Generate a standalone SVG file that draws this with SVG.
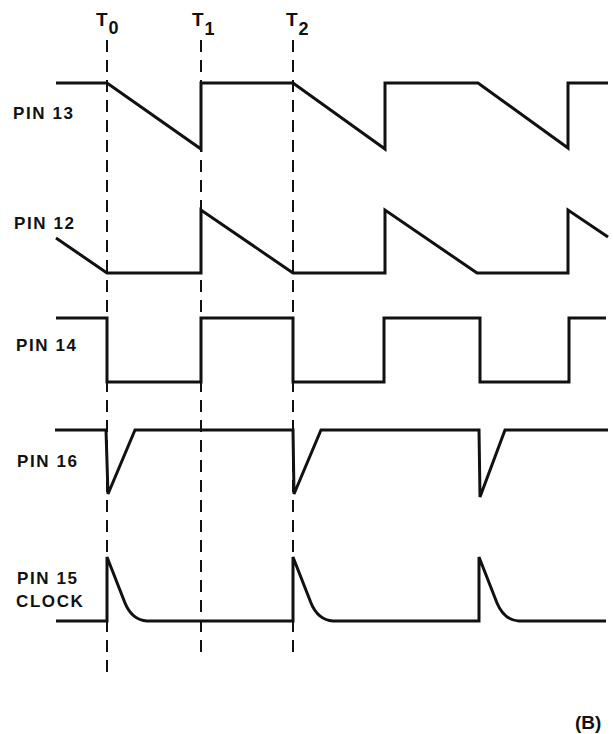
<svg xmlns="http://www.w3.org/2000/svg" width="613" height="734" viewBox="0 0 613 734">
<style>
.w{fill:none;stroke:#111;stroke-width:3;stroke-linejoin:miter;stroke-linecap:butt}
.d{fill:none;stroke:#111;stroke-width:2;stroke-dasharray:12 8}
.l{font-family:"Liberation Sans",Arial,sans-serif;font-weight:bold;font-size:17px;fill:#111;letter-spacing:1.6px}
.t{font-family:"Liberation Sans",Arial,sans-serif;font-weight:bold;font-size:19px;fill:#111}
</style>
<rect width="613" height="734" fill="#fff"/>
<g id="markers">
<line class="d" x1="107" y1="40" x2="107" y2="672"/>
<line class="d" x1="201" y1="40" x2="201" y2="660"/>
<line class="d" x1="293" y1="40" x2="293" y2="660"/>
<text class="t" x="96" y="26">T<tspan font-size="18" dx="1" dy="8">0</tspan></text>
<text class="t" x="192" y="26">T<tspan font-size="18" dx="1" dy="9">1</tspan></text>
<text class="t" x="286" y="26">T<tspan font-size="18" dx="1" dy="9">2</tspan></text>
</g>
<g id="pin13">
<text class="l" x="13" y="119">PIN 13</text>
<polyline class="w" points="56,83 107,83 201,149 201,83 293,83 385,149 385,83 478,83 568,148 568,83 608,83"/>
</g>
<g id="pin12">
<text class="l" x="14" y="229">PIN 12</text>
<polyline class="w" points="56,238 107,273 201,273 201,210 293,273 385,273 385,210 477,273 568,273 568,210 608,237"/>
</g>
<g id="pin14">
<text class="l" x="16" y="351">PIN 14</text>
<polyline class="w" points="56,318 107,318 107,382 201,382 201,318 293,318 293,382 384,382 384,318 480,318 480,382 569,382 569,318 606,318"/>
</g>
<g id="pin16">
<text class="l" x="17" y="467">PIN 16</text>
<polyline class="w" points="55,430 106,430 108,494 135,430 293,430 294,494 321,430 479,430 480,497 505,430 608,430"/>
</g>
<g id="pin15">
<text class="l" x="17" y="584">PIN 15</text>
<text class="l" x="16" y="607">CLOCK</text>
<path class="w" d="M56,621 H107 V557 L125,603 Q132,620 147,621 H293 V557 L311,603 Q318,620 333,621 H479 V557 L497,603 Q504,620 519,621 H606"/>
</g>
<text class="t" x="575" y="729" font-size="16">(B)</text>
</svg>
